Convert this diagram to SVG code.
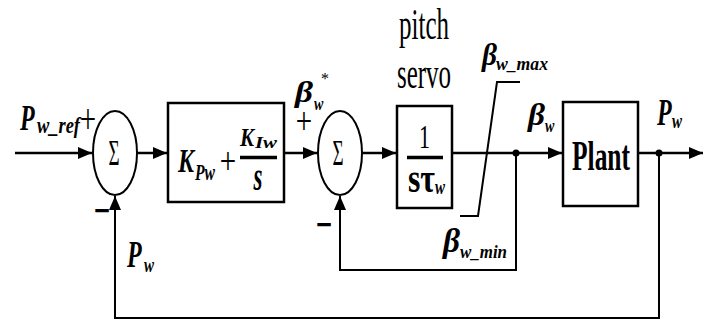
<svg xmlns="http://www.w3.org/2000/svg" width="711" height="321" viewBox="0 0 711 321">
<defs>
<marker id="arr" markerUnits="userSpaceOnUse" markerWidth="15" markerHeight="12" refX="14" refY="6" orient="auto">
<path d="M0,0 L14,6 L0,12 Z" fill="#000"/>
</marker>
<style>
.ln{fill:none;stroke:#000;stroke-width:2.5}
.fb{fill:none;stroke:#000;stroke-width:2}
.box{fill:#fff;stroke:#000;stroke-width:2.5}
.sum{fill:#fff;stroke:#000;stroke-width:2}
.bi{font-family:"Liberation Serif",serif;font-weight:bold;font-style:italic;fill:#000}
.b{font-family:"Liberation Serif",serif;font-weight:bold;fill:#000}
.r{font-family:"Liberation Serif",serif;fill:#000}
.sg{font-family:"Liberation Serif",serif;fill:#000;font-size:29px}
</style>
</defs>
<rect width="711" height="321" fill="#fff"/>
<g id="connectors">
<path class="ln" d="M15,153 H92" marker-end="url(#arr)"/>
<path class="ln" d="M137,153 H167" marker-end="url(#arr)"/>
<path class="ln" d="M284,153 H317" marker-end="url(#arr)"/>
<path class="ln" d="M362,153 H396" marker-end="url(#arr)"/>
<path class="ln" d="M452,153 H562" marker-end="url(#arr)"/>
<path class="ln" d="M638,153 H703" marker-end="url(#arr)"/>
<path class="fb" d="M516,153 V270 H340 V196" marker-end="url(#arr)"/>
<path class="fb" d="M659,153 V318 H115 V196" marker-end="url(#arr)"/>
<circle cx="516" cy="153" r="3.5" fill="#000"/>
<circle cx="659" cy="153" r="3.5" fill="#000"/>
</g>
<g id="input-label">
<text class="bi" font-size="24" transform="translate(20,130) scale(1,1.45)">P</text>
<text class="bi" font-size="16" textLength="43" lengthAdjust="spacingAndGlyphs" transform="translate(37,133) scale(1,1.45)">w_ref</text>
<text class="sg" text-anchor="middle" transform="translate(88,133) scale(1,1.45)">+</text>
</g>
<g id="sum1">
<ellipse class="sum" cx="115" cy="153" rx="22" ry="42"/>
<text class="r" font-size="19" text-anchor="middle" transform="translate(114,165) scale(1,1.85)">Σ</text>
<text class="sg" text-anchor="middle" font-weight="bold" font-size="24" transform="translate(102,226) scale(1,1.6)">−</text>
</g>
<g id="controller">
<rect class="box" x="168" y="103" width="116" height="99"/>
<text class="bi" font-size="24" transform="translate(178,172) scale(1,1.4)">K</text>
<text class="bi" font-size="16" textLength="20" lengthAdjust="spacingAndGlyphs" transform="translate(195,180) scale(1,1.4)">Pw</text>
<text class="sg" text-anchor="middle" transform="translate(228,174) scale(1,1.3)">+</text>
<text class="bi" font-size="21" transform="translate(240,146) scale(1,1.2)">K</text>
<text class="bi" font-size="14" textLength="22" lengthAdjust="spacingAndGlyphs" transform="translate(255,148) scale(1,1.2)">Iw</text>
<line x1="240" y1="157.5" x2="277" y2="157.5" stroke="#000" stroke-width="3.5"/>
<text class="bi" font-size="23" text-anchor="middle" transform="translate(258,190) scale(1,1.7)">s</text>
</g>
<g id="beta-ref-label">
<text class="bi" font-size="24" textLength="18" lengthAdjust="spacingAndGlyphs" transform="translate(295,102) scale(1,1.25)">β</text>
<text class="bi" font-size="14" transform="translate(314,110) scale(1,1.3)">w</text>
<text class="r" font-size="16" transform="translate(321,84)">*</text>
<text class="sg" text-anchor="middle" transform="translate(304,134) scale(1,1.3)">+</text>
</g>
<g id="sum2">
<ellipse class="sum" cx="340" cy="153" rx="22" ry="42"/>
<text class="r" font-size="19" text-anchor="middle" transform="translate(338,165) scale(1,1.85)">Σ</text>
<text class="sg" text-anchor="middle" font-weight="bold" font-size="24" transform="translate(324,240) scale(1,1.6)">−</text>
</g>
<g id="pitch-servo">
<text class="r" font-size="25" text-anchor="middle" transform="translate(424,39) scale(1,1.8)">pitch</text>
<text class="r" font-size="25" text-anchor="middle" transform="translate(424,88) scale(1,1.8)">servo</text>
<rect class="box" x="397" y="106" width="55" height="102"/>
<text class="r" font-size="22" text-anchor="middle" transform="translate(424.5,148) scale(1,1.55)">1</text>
<line x1="407" y1="157.5" x2="443" y2="157.5" stroke="#000" stroke-width="3.5"/>
<text class="b" font-size="22" textLength="27" lengthAdjust="spacingAndGlyphs" transform="translate(408,192) scale(1,1.9)">sτ</text>
<text class="bi" font-size="15" transform="translate(435,194) scale(1,1.4)">w</text>
</g>
<g id="saturation">
<path d="M460,216 H478 L497,82 H520" fill="none" stroke="#000" stroke-width="2"/>
<text class="bi" font-size="24" textLength="15" lengthAdjust="spacingAndGlyphs" transform="translate(482,65) scale(1,1.3)">β</text>
<text class="bi" font-size="14" textLength="52" lengthAdjust="spacingAndGlyphs" transform="translate(496,70) scale(1,1.3)">w_max</text>
<text class="bi" font-size="24" textLength="17" lengthAdjust="spacingAndGlyphs" transform="translate(443,252) scale(1,1.4)">β</text>
<text class="bi" font-size="14" textLength="47" lengthAdjust="spacingAndGlyphs" transform="translate(460,258) scale(1,1.3)">w_min</text>
</g>
<g id="plant">
<rect class="box" x="563" y="102" width="75" height="104"/>
<text class="b" font-size="25" textLength="58" lengthAdjust="spacingAndGlyphs" transform="translate(572,170) scale(1,1.7)">Plant</text>
<text class="bi" font-size="24" textLength="17" lengthAdjust="spacingAndGlyphs" transform="translate(528,125) scale(1,1.3)">β</text>
<text class="bi" font-size="14" transform="translate(545,132) scale(1,1.3)">w</text>
</g>
<g id="output-label">
<text class="bi" font-size="24" transform="translate(657,125) scale(1,1.6)">P</text>
<text class="bi" font-size="15" transform="translate(672,128) scale(1,1.4)">w</text>
</g>
<g id="feedback-label">
<text class="bi" font-size="24" transform="translate(127,267) scale(1,1.6)">P</text>
<text class="bi" font-size="15" transform="translate(144,272) scale(1,1.4)">w</text>
</g>
</svg>
